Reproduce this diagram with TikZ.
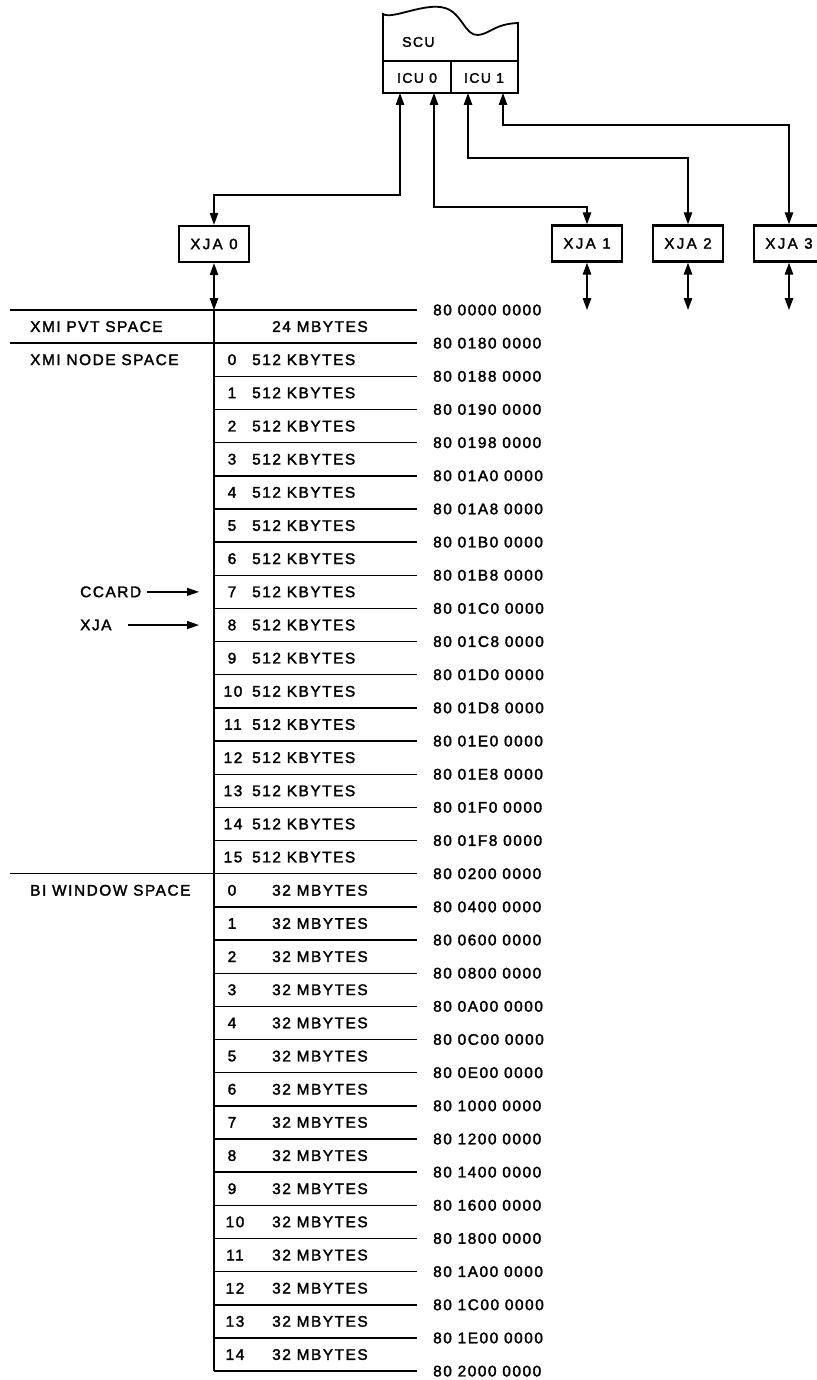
\documentclass[tikz,border=0pt]{standalone}
\usepackage{fontspec}
\setmainfont{Liberation Sans}[LetterSpace=10,FakeBold=2]
\usetikzlibrary{arrows.meta}
\begin{document}
\begin{tikzpicture}[x=1pt,y=-1pt,
  mtxt/.style={font=\fontsize{15.4}{18}\selectfont, inner sep=0pt},
  btxt/.style={font=\fontsize{14}{16}\selectfont, inner sep=0pt},
  xjabox/.style={draw, line width=2.4pt, minimum width=70pt, minimum height=36pt, inner sep=0pt,
    font=\fontsize{15}{17}\selectfont\addfontfeatures{LetterSpace=16}},
  conn/.style={line width=1.3pt, {Triangle[length=12pt,width=8.5pt]}-{Triangle[length=12pt,width=8.5pt]}},
  onearrow/.style={line width=1.3pt, -{Triangle[length=12pt,width=8pt]}},
  mline/.style={line width=1.4pt},
  boxline/.style={line width=1.8pt}]
\useasboundingbox (0,0) rectangle (816,1380);
\def\rh{33.16}
% SCU box
\draw[boxline] (383,14) .. controls (392,20) and (425,2) .. (445,8)
  .. controls (462,13) and (465,36) .. (478,35)
  .. controls (490,34) and (494,24) .. (518,23) -- (518,93) -- (383,93) -- cycle;
\draw[boxline] (383,61) -- (518,61);
\draw[boxline] (451,61) -- (451,93);
\node[btxt,anchor=west] (scu) at (402,42) {SCU};
\node[btxt] (icu0) at (417,78) {ICU 0};
\node[btxt] (icu1) at (484,78) {ICU 1};
\coordinate (i0a) at (400,93);
\coordinate (i0b) at (434,93);
\coordinate (i1a) at (468,93);
\coordinate (i1b) at (503,93);
% XJA boxes
\node[xjabox] (x0) at (214,244) {XJA 0};
\node[xjabox] (x1) at (587,243.5) {XJA 1};
\node[xjabox] (x2) at (688,243.5) {XJA 2};
\node[xjabox] (x3) at (789,243.5) {XJA 3};
% connectors SCU -> XJA
\draw[conn] (i0a) -- ++(0,102) -| (x0.north);
\draw[conn] (i0b) -- ++(0,114) -| (x1.north);
\draw[conn] (i1a) -- ++(0,65) -| (x2.north);
\draw[conn] (i1b) -- ++(0,32) -| (x3.north);
% XJA downward connectors
\coordinate (top0) at (214,310);
\coordinate (e1) at (587,310);
\coordinate (e2) at (688,310);
\coordinate (e3) at (789,310);
\draw[conn] (x0.south) -- (top0);
\draw[conn] (x1.south) -- (e1);
\draw[conn] (x2.south) -- (e2);
\draw[conn] (x3.south) -- (e3);
% memory map lines
\foreach \i in {0,...,32} {
  \pgfmathsetmacro\yy{310+\i*\rh}
  \draw[mline] (214,\yy) -- (417,\yy);
}
\foreach \i in {0,1,17} {
  \pgfmathsetmacro\yy{310+\i*\rh}
  \draw[mline] (10,\yy) -- (214,\yy);
}
\draw[mline] (top0) -- (214,1371.12);
% addresses
\foreach \ad [count=\i from 0] in {0000,0180,0188,0190,0198,01A0,01A8,01B0,01B8,01C0,01C8,01D0,01D8,01E0,01E8,01F0,01F8,0200,0400,0600,0800,0A00,0C00,0E00,1000,1200,1400,1600,1800,1A00,1C00,1E00,2000} {
  \pgfmathsetmacro\yy{310+\i*\rh}
  \node[mtxt,anchor=west] (addr\i) at (433,\yy) {80 \ad\ 0000};
}
% rows
\node[mtxt,anchor=west] (r0) at (272,326.58) {24 MBYTES};
\foreach \k in {0,...,15} {
  \pgfmathsetmacro\yy{310+(\k+1.5)*\rh}
  \pgfmathsetmacro\nx{\k<10 ? 232 : 233}
  \node[mtxt] (kn\k) at (\nx,\yy) {\k};
  \node[mtxt,anchor=west] (kb\k) at (252,\yy) {512 KBYTES};
}
\foreach \k in {0,...,14} {
  \pgfmathsetmacro\yy{310+(\k+17.5)*\rh}
  \pgfmathsetmacro\nx{\k<10 ? 232 : 235}
  \node[mtxt] (mn\k) at (\nx,\yy) {\k};
  \node[mtxt,anchor=west] (mb\k) at (272,\yy) {32 MBYTES};
}
% left labels
\node[mtxt,anchor=west] (pvt) at (30,326.58) {XMI PVT SPACE};
\node[mtxt,anchor=west] (nodesp) at (30,359.74) {XMI NODE SPACE};
\node[mtxt,anchor=west] (biw) at (30,890.3) {BI WINDOW SPACE};
\node[mtxt,anchor=west] (ccard) at (80,591.86) {CCARD};
\node[mtxt,anchor=west] (xjal) at (80,625.02) {XJA};
\coordinate (cct) at (199,591.86);
\coordinate (xjt) at (199,625.02);
\draw[onearrow] ([xshift=6pt]ccard.east) -- (cct);
\draw[onearrow] ([xshift=16pt]xjal.east) -- (xjt);
\end{tikzpicture}
\end{document}
